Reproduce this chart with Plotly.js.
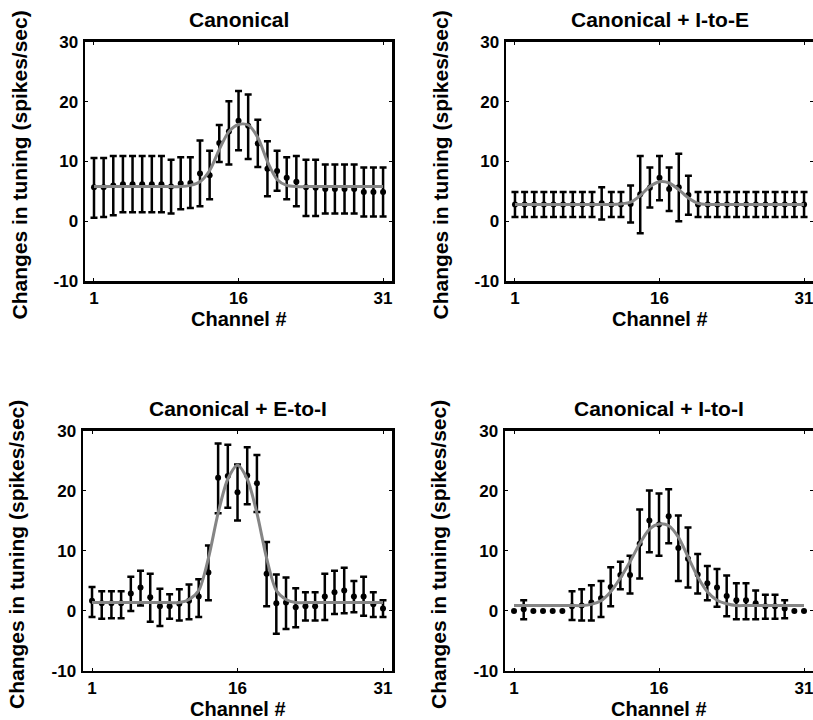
<!DOCTYPE html>
<html>
<head>
<meta charset="utf-8">
<script src="https://cdn.plot.ly/plotly-3.0.1.min.js"></script>
<style>html,body{margin:0;padding:0;background:#fff;}#chart{width:813px;height:720px;}</style>
</head>
<body>
<div id="chart"></div>
<script>
// ---- data ----
var channels = [1,2,3,4,5,6,7,8,9,10,11,12,13,14,15,16,17,18,19,20,21,22,23,24,25,26,27,28,29,30,31];
var xTickVals = [1,16,31];
var yTickVals = [-10,0,10,20,30];
var panelTitles = ["Canonical", "Canonical + I-to-E", "Canonical + E-to-I", "Canonical + I-to-I"];
var xTitle = "Channel #";
var yTitle = "Changes in tuning (spikes/sec)";

// Canonical
var canonMean  = [5.7,5.7,6.0,6.2,6.2,6.2,6.2,6.2,5.8,6.3,6.4,8.0,7.7,13.1,15.0,16.8,16.0,13.0,8.8,8.4,7.3,6.6,5.7,5.6,5.4,5.4,5.4,5.4,4.9,4.9,4.9];
var canonUpper = [10.6,10.6,10.9,10.9,10.9,10.9,10.9,10.9,10.3,10.7,10.7,13.5,11.8,16.1,20.1,21.8,21.2,17.0,13.4,11.8,10.7,10.9,10.3,10.3,9.5,9.5,9.5,9.5,9.0,9.0,9.0];
var canonLower = [0.6,0.7,1.0,1.5,1.5,1.5,1.5,1.5,1.3,2.0,2.2,2.5,3.7,9.9,9.5,11.9,10.4,9.1,4.2,5.1,3.7,2.5,0.9,0.9,1.3,1.3,1.3,1.3,0.8,0.8,0.8];
var canonFit   = [5.8,5.8,5.8,5.8,5.8,5.8,5.8,5.8,5.8,5.8,6.0,6.6,8.5,12.0,15.0,16.2,16.1,14.0,10.0,7.0,6.0,5.8,5.8,5.8,5.8,5.8,5.8,5.8,5.8,5.8,5.8];

// Canonical + I-to-E
var ieMean  = [2.8,2.8,2.8,2.8,2.8,2.8,2.8,2.8,2.8,3.0,2.8,2.8,2.9,4.5,5.6,7.3,5.4,5.7,4.4,2.8,2.8,2.8,2.8,2.8,2.8,2.8,2.8,2.8,2.8,2.8,2.8];
var ieUpper = [4.9,4.9,4.9,4.9,4.9,4.9,4.9,4.9,4.9,5.7,4.9,4.9,6.0,10.9,9.0,10.9,9.0,11.3,7.6,4.9,4.9,4.9,4.9,4.9,4.9,4.9,4.9,4.9,4.9,4.9,4.9];
var ieLower = [0.7,0.7,0.7,0.7,0.7,0.7,0.7,0.7,0.7,0.3,0.7,0.7,-0.2,-2.0,2.3,3.5,1.7,0.0,1.1,0.7,0.7,0.7,0.7,0.7,0.7,0.7,0.7,0.7,0.7,0.7,0.7];
var ieFit   = [2.8,2.8,2.8,2.8,2.8,2.8,2.8,2.8,2.8,2.8,2.8,2.9,3.2,4.3,5.8,6.6,6.4,5.3,3.9,3.0,2.8,2.8,2.8,2.8,2.8,2.8,2.8,2.8,2.8,2.8,2.8];

// Canonical + E-to-I
var eiMean  = [1.7,1.3,1.3,1.3,2.9,3.9,2.3,0.8,0.8,1.2,1.7,2.4,6.4,22.2,22.5,19.8,22.6,21.3,6.2,1.3,1.4,0.6,0.8,0.8,2.4,3.1,3.4,2.4,2.4,1.1,0.4];
var eiUpper = [4.0,3.3,3.3,3.3,5.7,6.7,6.2,3.7,2.8,3.6,4.4,5.3,10.9,27.9,27.7,24.4,27.3,26.0,11.5,6.1,5.6,3.8,3.1,3.1,6.2,6.7,7.2,5.0,5.7,3.1,1.8];
var eiLower = [-1.0,-1.3,-1.2,-1.2,0.0,0.9,-1.8,-2.5,-1.3,-1.6,-1.4,-1.0,1.8,16.3,17.2,15.1,17.8,16.5,0.8,-3.8,-3.0,-2.7,-1.6,-1.6,-1.5,-0.5,-0.4,-0.2,-0.8,-1.0,-1.0];
var eiFit   = [1.4,1.4,1.4,1.4,1.4,1.4,1.4,1.4,1.4,1.4,1.9,3.4,8.8,16.3,22.0,24.3,22.0,16.3,8.8,3.4,1.9,1.4,1.4,1.4,1.4,1.4,1.4,1.4,1.4,1.4,1.4];

// Canonical + I-to-I (null = no error bar drawn)
var iiMean  = [0,0.3,0,0,0,0,0.8,0.9,1.4,2.1,4.0,6.0,6.0,11.2,15.1,14.4,15.8,10.5,8.7,6.1,4.6,3.9,2.5,1.8,1.8,1.3,0.8,0.8,0.4,0,0];
var iiUpper = [null,1.8,null,null,null,null,3.3,3.6,4.3,5.0,7.3,8.2,9.2,16.9,20.1,19.6,20.3,15.9,13.9,9.5,7.5,7.0,5.9,4.6,4.6,3.4,2.7,2.7,1.8,null,null];
var iiLower = [null,-1.4,null,null,null,null,-1.5,-1.6,-1.6,-1.0,0.8,3.6,2.9,5.4,9.8,9.2,11.3,5.0,3.9,2.9,1.8,0.7,-0.9,-1.4,-1.4,-1.4,-1.3,-1.3,-1.2,null,null];
var iiFit   = [0.9,0.9,0.9,0.9,0.9,0.9,0.9,0.9,1.1,1.7,3.2,5.5,8.2,11.2,13.6,14.5,14.2,12.3,9.0,5.7,3.2,1.8,1.2,0.9,0.9,0.9,0.9,0.9,0.9,0.9,0.9];

// ---- build ----
function errPlus(mean, upper){ return mean.map(function(m,i){ return upper[i]==null ? NaN : upper[i]-m; }); }
function errMinus(mean, lower){ return mean.map(function(m,i){ return lower[i]==null ? NaN : m-lower[i]; }); }

var panels = [
  {mean: canonMean, upper: canonUpper, lower: canonLower, fit: canonFit},
  {mean: ieMean, upper: ieUpper, lower: ieLower, fit: ieFit},
  {mean: eiMean, upper: eiUpper, lower: eiLower, fit: eiFit},
  {mean: iiMean, upper: iiUpper, lower: iiLower, fit: iiFit}
];

var FONT = "Liberation Sans, Arial, Helvetica, sans-serif";
var traces = [];
panels.forEach(function(p, k){
  var sx = k === 0 ? 'x' : 'x' + (k+1);
  var sy = k === 0 ? 'y' : 'y' + (k+1);
  traces.push({
    x: channels, y: p.mean, xaxis: sx, yaxis: sy, type: 'scatter', mode: 'markers',
    marker: {color: '#000', size: 6},
    error_y: {type: 'data', symmetric: false, array: errPlus(p.mean, p.upper), arrayminus: errMinus(p.mean, p.lower),
              color: '#000', thickness: 2.5, width: 3.5},
    showlegend: false, hoverinfo: 'skip'
  });
  traces.push({
    x: channels, y: p.fit, xaxis: sx, yaxis: sy, type: 'scatter', mode: 'lines',
    line: {color: '#858585', width: 3, shape: 'spline', smoothing: 0.8},
    showlegend: false, hoverinfo: 'skip'
  });
});

var xDomains = [[0.1046, 0.4822], [0.6224, 1.0], [0.1021, 0.4822], [0.6212, 1.0]];
var yDomains = [[0.6097, 0.9417], [0.6097, 0.9417], [0.0681, 0.4014], [0.0681, 0.4014]];

var tickFont = {family: FONT, size: 17, color: '#000', weight: 'bold'};
var layout = {
  width: 813, height: 720,
  margin: {l: 0, r: 0, t: 0, b: 0},
  paper_bgcolor: '#fff', plot_bgcolor: '#fff',
  showlegend: false,
  annotations: []
};

for (var k = 0; k < 4; k++) {
  var xn = k === 0 ? 'xaxis' : 'xaxis' + (k+1);
  var yn = k === 0 ? 'yaxis' : 'yaxis' + (k+1);
  var xa = k === 0 ? 'y' : 'y' + (k+1);
  var ya = k === 0 ? 'x' : 'x' + (k+1);
  layout[xn] = {
    domain: xDomains[k], anchor: xa, range: [0.07, 31.93],
    tickmode: 'array', tickvals: xTickVals, ticktext: xTickVals.map(String),
    ticks: 'inside', ticklen: 3, tickwidth: 1, tickcolor: '#000',
    showline: true, linecolor: '#000', linewidth: 2.5, mirror: 'ticks',
    showgrid: false, zeroline: false, tickfont: tickFont, ticklabelstandoff: 0,
    ticklabeloverflow: 'allow'
  };
  layout[yn] = {
    domain: yDomains[k], anchor: ya, range: [-10, 30],
    tickmode: 'array', tickvals: yTickVals, ticktext: yTickVals.map(String),
    ticks: 'inside', ticklen: 3, tickwidth: 1, tickcolor: '#000',
    showline: true, linecolor: '#000', linewidth: 2.5, mirror: 'ticks',
    showgrid: false, zeroline: false, tickfont: tickFont, ticklabelstandoff: 1,
    ticklabeloverflow: 'allow'
  };
  var cx = (xDomains[k][0] + xDomains[k][1]) / 2;
  var topPx = 720 * (1 - yDomains[k][1]);
  var botPx = 720 * (1 - yDomains[k][0]);
  var leftPx = 813 * xDomains[k][0];
  // panel title
  layout.annotations.push({
    text: panelTitles[k], xref: 'paper', yref: 'paper', x: cx, y: 1 - (topPx - 22) / 720,
    xanchor: 'center', yanchor: 'middle', showarrow: false,
    font: {family: FONT, size: 21, color: '#000', weight: 'bold'}
  });
  // x title
  layout.annotations.push({
    text: xTitle, xref: 'paper', yref: 'paper', x: cx, y: 1 - (botPx + 38) / 720,
    xanchor: 'center', yanchor: 'middle', showarrow: false,
    font: {family: FONT, size: 20, color: '#000', weight: 'bold'}
  });
  // y title
  layout.annotations.push({
    text: yTitle, xref: 'paper', yref: 'paper', x: (leftPx - 66) / 813, y: 1 - ((topPx + botPx) / 2 + 4) / 720,
    xanchor: 'center', yanchor: 'middle', textangle: -90, showarrow: false,
    font: {family: FONT, size: 21, color: '#000', weight: 'bold'}
  });
}

Plotly.newPlot('chart', traces, layout, {staticPlot: true, displayModeBar: false});
</script>
</body>
</html>
